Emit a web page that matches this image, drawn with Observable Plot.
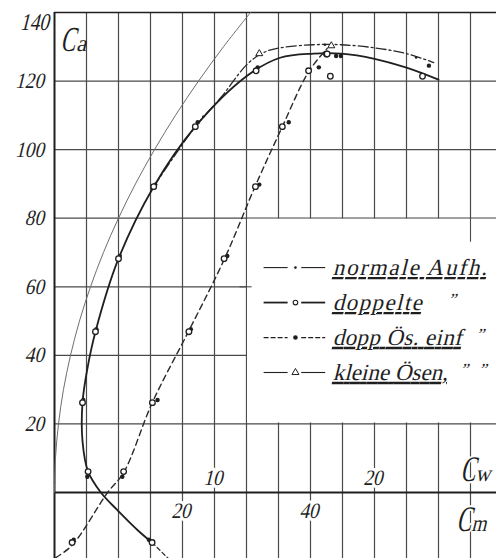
<!DOCTYPE html>
<html lang="de">
<head>
<meta charset="utf-8">
<title>Ca – Cw, Cm</title>
<script src="https://cdn.jsdelivr.net/npm/d3@7"></script>
<script src="https://cdn.jsdelivr.net/npm/@observablehq/plot@0.6"></script>
<style>
  html, body { margin: 0; padding: 0; background: #fff; }
  #chart { width: 496px; height: 558px; overflow: hidden; }
  #chart svg { display: block; }
</style>
</head>
<body>
<div id="chart"></div>
<script>
// Lift coefficient Ca (x100) upward; drag Cw and moment Cm (x100) share the horizontal grid
// (one grid column = 2 units of Cw = 5 units of Cm).

// Tick values
const caTicks = [20, 40, 60, 80, 100, 120, 140];
const cwGrid = [2, 4, 6, 8, 10, 12, 14, 16, 18, 20, 22, 24, 26];
const cwLabels = [10, 20];
const cmLabels = [20, 40];

// Drag polar, "doppelte" suspension (solid line)
const polarCa = [-14.6, -11, -5, 0, 6.1, 15, 26.2, 36, 46.9, 68.2, 89.2, 106.7, 121.6, 126.8, 128, 128, 126.5, 123.9, 120.4];
const polarCw = [6.1, 5.2, 3.9, 2.9, 2.1, 1.75, 1.75, 2.05, 2.56, 4.0, 6.2, 8.8, 12.06, 14.1, 16.2, 17.9, 20.0, 22.0, 24.0];
// its dashed run-out below zero lift
const polarTailCa = [-14.6, -19.2];
const polarTailCw = [6.1, 7.1];

// Drag polar, "normale Aufhängung" (dash-dot line near maximum lift)
const normCa = [89.2, 106.7, 115.2, 125, 128.3, 129.7, 130.6, 130.6, 129.7, 128, 125.4];
const normCw = [6.2, 8.8, 10.4, 12.06, 13.06, 14.1, 16.2, 17.9, 20.0, 22.0, 23.7];

// Moment coefficient against lift (dashed line)
const momCa = [-19, -15.4, 0, 5.8, 26.3, 47.2, 67.9, 89.5, 106.7, 122.7, 129.5];
const momCm = [0.2, 2.75, 8.3, 10.8, 15.3, 21.0, 26.5, 31.4, 35.6, 39.7, 42.6];

// Polar of the ideal wing (thin line)
const idealCa = [0, 10, 20, 30, 40, 50, 60, 70, 80, 90, 100, 110, 120, 130, 140];
const idealCw = [0, 0.06, 0.25, 0.56, 1.0, 1.56, 2.25, 3.06, 4.0, 5.06, 6.25, 7.56, 9.0, 10.56, 12.25];

// Measured points, "doppelte" (open circles)
const dopCa = [-14.6, 6.1, 26.2, 46.9, 68.2, 89.2, 106.7, 123.0, 127.9, 121.4];
const dopCw = [6.1, 2.1, 1.75, 2.56, 4.0, 6.2, 8.8, 12.6, 17.0, 23.0];
const dopCm = [2.75, 10.8, 15.3, 21.0, 26.5, 31.4, 35.6, 39.7, 42.6, 43.1];

// Measured points, "dopp. Ösen einf." (filled dots)
const oesCa = [-13.8, 4.6, 27.0, 47.6, 69.0, 89.8, 108.0, 124.0, 127.3, 124.5];
const oesCw = [5.9, 2.05, 1.8, 2.62, 4.08, 6.3, 8.95, 12.7, 17.9, 23.4];
const oesCm = [3.0, 10.6, 16.1, 21.3, 27.0, 32.0, 36.6, 41.3, 44.0, null];

// Measured points, "normale Aufh." (small dots)
const normPtCa = [109.6, 130.6, 126.9];
const normPtCw = [9.3, 16.9, 22.6];

// Measured points, "kleine Ösen" (triangles)
const kleinCa = [128.0, 130.3];
const kleinCw = [12.8, 17.3];

// Legend entries
const legendLabels = ["normale Aufh.", "doppelte", "dopp Ös. einf", "kleine Ösen,"];

// ---------------------------------------------------------------
const cmOnGrid = cm => (cm == null ? NaN : cm * 0.4);
const zip = (ca, other, key) => ca.map((v, i) => ({ ca: v, [key]: other[i] }));

const polar = zip(polarCa, polarCw, "cw");
const polarTail = zip(polarTailCa, polarTailCw, "cw");
const norm = zip(normCa, normCw, "cw");
const moment = zip(momCa, momCm, "cm");
const ideal = zip(idealCa, idealCw, "cw");
const dopPts = dopCa.map((ca, i) => ({ ca, cw: dopCw[i], cm: dopCm[i] }));
const oesPts = oesCa.map((ca, i) => ({ ca, cw: oesCw[i], cm: oesCm[i] }));
const normPts = zip(normPtCa, normPtCw, "cw");
const kleinPts = zip(kleinCa, kleinCw, "cw");

const ink = "#1f1f1f";
const gridInk = "#4a4a4a";
const serif = "'Liberation Serif', 'DejaVu Serif', serif";

// legend layout inside the blank panel (Cw 12 … edge, Ca 20 … 80)
const rows = legendLabels.map((label, i) => ({ label, i, ca: 65.6 - i * 10.2 }));
const rowStyle = [
  { w: 1.1, dash: null },
  { w: 1.8, dash: null },
  { w: 1.2, dash: "5,2" },
  { w: 1.1, dash: null }
];
const dittos = [
  { i: 1, x: 24.94 }, { i: 2, x: 26.7 }, { i: 3, x: 25.7 }, { i: 3, x: 26.85 }
].map(d => ({ ...d, ca: rows[d.i].ca + 0.9 }));

const textBase = { fontFamily: serif, fill: ink };

const legendMarks = [];
rows.forEach(r => {
  const st = rowStyle[r.i];
  legendMarks.push(Plot.ruleY([r], { y: "ca", x1: () => 13.1, x2: () => 14.6, stroke: ink, strokeWidth: st.w, strokeDasharray: st.dash }));
  legendMarks.push(Plot.ruleY([r], { y: "ca", x1: () => 15.45, x2: () => 16.95, stroke: ink, strokeWidth: st.w, strokeDasharray: st.dash }));
});
legendMarks.push(
  Plot.dot([rows[0]], { x: () => 15.06, y: "ca", r: 1.3, fill: ink }),
  Plot.dot([rows[1]], { x: () => 15.06, y: "ca", r: 2.3, stroke: ink, strokeWidth: 1.1, fill: "white" }),
  Plot.dot([rows[2]], { x: () => 15.06, y: "ca", r: 2.3, fill: ink }),
  Plot.dot([rows[3]], { x: () => 15.06, y: "ca", r: 2.6, symbol: "triangle", stroke: ink, strokeWidth: 1, fill: "white" }),
  Plot.text(rows, { x: () => 17.5, y: "ca", text: "label", textAnchor: "start", lineAnchor: "middle", fontSize: 23, ...textBase }),
  Plot.text(dittos, { x: "x", y: "ca", text: () => "\u201D", textAnchor: "middle", lineAnchor: "middle", fontSize: 17, ...textBase })
);

const chart = Plot.plot({
  width: 496,
  height: 558,
  marginLeft: 54,
  marginRight: 0,
  marginTop: 12,
  marginBottom: 0,
  x: { domain: [0, 27.625], axis: null },
  y: { domain: [-19.25, 140], axis: null },
  style: { background: "#fff", overflow: "visible" },
  marks: [
    // grid
    Plot.ruleY(caTicks, { stroke: gridInk, strokeWidth: 1.2 }),
    Plot.ruleX(cwGrid, { stroke: gridInk, strokeWidth: 1.2 }),
    Plot.ruleY([140], { stroke: ink, strokeWidth: 1.6 }),
    Plot.ruleY([0], { stroke: ink, strokeWidth: 2 }),
    Plot.ruleX([0], { stroke: ink, strokeWidth: 2 }),

    // blank legend panel with a few grid stubs
    Plot.rect([0], { x1: () => 12, x2: () => 27.625, y1: () => 20, y2: () => 80, fill: "white", insetLeft: 1, insetTop: 1, insetBottom: 1 }),
    Plot.ruleX([26], { y1: () => 73, y2: () => 80, stroke: gridInk, strokeWidth: 1.1 }),
    Plot.ruleY([60], { x1: () => 11.6, x2: () => 12.35, stroke: gridInk, strokeWidth: 1.1 }),

    // curves
    Plot.line(ideal, { x: "cw", y: "ca", curve: "catmull-rom", stroke: "#6e6e6e", strokeWidth: 1 }),
    Plot.line(moment, { x: d => cmOnGrid(d.cm), y: "ca", curve: "catmull-rom", stroke: "#2a2a2a", strokeWidth: 1.4, strokeDasharray: "6,4" }),
    Plot.line(norm, { x: "cw", y: "ca", curve: "catmull-rom", stroke: "#2a2a2a", strokeWidth: 1.3, strokeDasharray: "10,3,2,3" }),
    Plot.line(polar, { x: "cw", y: "ca", curve: "catmull-rom", stroke: ink, strokeWidth: 1.8 }),
    Plot.line(polarTail, { x: "cw", y: "ca", stroke: "#333", strokeWidth: 1.3, strokeDasharray: "4,3" }),

    // measured points
    Plot.dot(oesPts, { x: "cw", y: "ca", r: 2.2, fill: ink }),
    Plot.dot(oesPts, { x: d => cmOnGrid(d.cm), y: "ca", r: 2.2, fill: ink }),
    Plot.dot(dopPts, { x: "cw", y: "ca", r: 2.8, stroke: ink, strokeWidth: 1.3, fill: "white" }),
    Plot.dot(dopPts, { x: d => cmOnGrid(d.cm), y: "ca", r: 2.8, stroke: ink, strokeWidth: 1.3, fill: "white" }),
    Plot.dot(normPts, { x: "cw", y: "ca", r: 1.3, fill: ink }),
    Plot.dot(kleinPts, { x: "cw", y: "ca", r: 2.6, symbol: "triangle", stroke: ink, strokeWidth: 1, fill: "white" }),

    // value labels on the Ca axis
    Plot.text(caTicks.filter(v => v < 140), { x: () => 0, y: d => d, text: d => `${d}`, textAnchor: "end", lineAnchor: "middle", dx: -9, fontSize: 22, ...textBase }),
    Plot.text([140], { x: () => 0, y: d => d, text: d => `${d}`, textAnchor: "end", lineAnchor: "middle", dx: -4, dy: 10, fontSize: 24, ...textBase }),

    // value labels for Cw (above the zero line) and Cm (below it)
    Plot.text(cwLabels, { x: d => d, y: () => 4.1, text: d => `${d}`, textAnchor: "middle", lineAnchor: "middle", fontSize: 22, stroke: "white", strokeWidth: 6, ...textBase }),
    Plot.text(cmLabels, { x: d => cmOnGrid(d), y: () => -5.3, text: d => `${d}`, textAnchor: "middle", lineAnchor: "middle", fontSize: 22, stroke: "white", strokeWidth: 6, ...textBase }),

    // axis names
    Plot.text([0], { x: () => 0.35, y: () => 128.9, text: () => "C", textAnchor: "start", lineAnchor: "bottom", fontSize: 35, ...textBase }),
    Plot.text([0], { x: () => 1.35, y: () => 128.9, text: () => "a", textAnchor: "start", lineAnchor: "bottom", fontSize: 23, ...textBase }),
    Plot.text([0], { x: () => 25.35, y: () => 3.5, text: () => "C", textAnchor: "start", lineAnchor: "bottom", fontSize: 36, stroke: "white", strokeWidth: 4, ...textBase }),
    Plot.text([0], { x: () => 26.3, y: () => 3.5, text: () => "w", textAnchor: "start", lineAnchor: "bottom", fontSize: 23, ...textBase }),
    Plot.text([0], { x: () => 25.1, y: () => -11.1, text: () => "C", textAnchor: "start", lineAnchor: "bottom", fontSize: 36, stroke: "white", strokeWidth: 4, ...textBase }),
    Plot.text([0], { x: () => 26.05, y: () => -11.1, text: () => "m", textAnchor: "start", lineAnchor: "bottom", fontSize: 23, ...textBase }),

    ...legendMarks
  ]
});

document.getElementById("chart").appendChild(chart);

// hand-lettered look: slanted strokes, narrow capitals and digits, stretched underlined legend labels
const labelWidths = { "normale Aufh.": 154, "doppelte": 89, "dopp Ös. einf": 129, "kleine Ösen,": 115 };
d3.select(chart).selectAll("text").each(function () {
  const t = this.textContent;
  const el = d3.select(this);
  if (t in labelWidths) {
    el.attr("textLength", labelWidths[t])
      .attr("lengthAdjust", "spacing")
      .style("text-decoration", "underline");
  } else if (t === "C") {
    el.attr("textLength", 15).attr("lengthAdjust", "spacingAndGlyphs");
  } else if (t === "w" || t === "m") {
    el.attr("textLength", 15).attr("lengthAdjust", "spacingAndGlyphs");
  } else if (/^\d+$/.test(t)) {
    el.attr("textLength", t.length * 9.6).attr("lengthAdjust", "spacingAndGlyphs");
  }
  // slant each glyph run about its own anchor
  const tr = this.getAttribute("transform");
  if (tr) {
    this.setAttribute("transform", tr + " skewX(-14)");
  } else {
    const x = +this.getAttribute("x") || 0;
    const y = +this.getAttribute("y") || 0;
    this.setAttribute("x", 0);
    this.setAttribute("y", 0);
    this.setAttribute("transform", `translate(${x},${y}) skewX(-14)`);
  }
});
</script>
</body>
</html>
